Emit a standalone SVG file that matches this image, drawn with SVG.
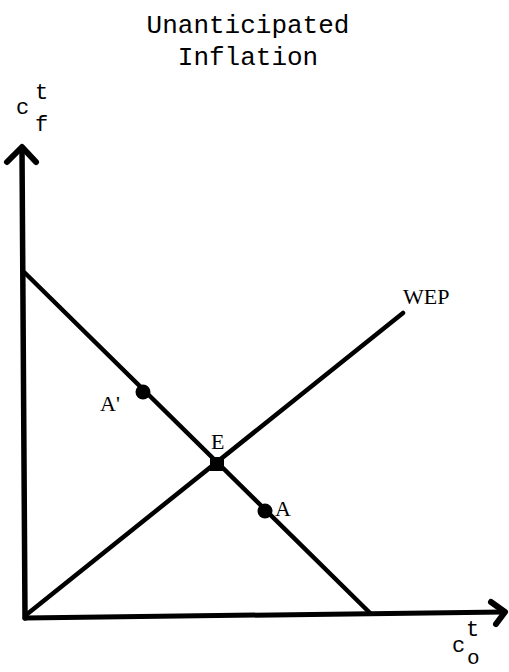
<svg xmlns="http://www.w3.org/2000/svg" width="509" height="672" viewBox="0 0 509 672">
<style>
.mono{font-family:"Liberation Mono","DejaVu Sans Mono",monospace;fill:#000}
.serif{font-family:"Liberation Serif","DejaVu Serif",serif;fill:#000}
.ln{stroke:#000;fill:none;stroke-linecap:round;stroke-linejoin:round}
</style>
<rect width="509" height="672" fill="#fff"/>
<g id="title">
<text class="mono" x="248" y="33" font-size="26" text-anchor="middle">Unanticipated</text>
<text class="mono" x="248" y="65" font-size="26" text-anchor="middle">Inflation</text>
</g>
<g id="axis-labels">
<text class="mono" x="16" y="114" font-size="22">c</text>
<text class="mono" x="35" y="99" font-size="22">t</text>
<text class="mono" x="35" y="131" font-size="22">f</text>
<text class="mono" x="466" y="636" font-size="22">t</text>
<text class="mono" x="452" y="652" font-size="22">c</text>
<text class="mono" x="467" y="664" font-size="21">o</text>
</g>
<g id="connectors">
<line class="ln" x1="22" y1="150" x2="25" y2="618" stroke-width="5.5"/>
<polyline class="ln" points="7,162 22,147 36,162" stroke-width="6"/>
<line class="ln" x1="25" y1="618" x2="504" y2="612" stroke-width="5"/>
<polyline class="ln" points="491,602 505,612 496,624" stroke-width="6"/>
<line class="ln" x1="25" y1="273" x2="370" y2="613" stroke-width="4.5"/>
<line class="ln" x1="26" y1="615" x2="403" y2="313" stroke-width="4.5"/>
</g>
<g id="E">
<rect x="210" y="457" width="14" height="14" fill="#000"/>
<text class="serif" x="211" y="449" font-size="22">E</text>
</g>
<g id="A-prime">
<circle cx="143" cy="392" r="7.5" fill="#000"/>
<text class="serif" x="100" y="411" font-size="22">A'</text>
</g>
<g id="A">
<circle cx="265" cy="511" r="7.5" fill="#000"/>
<text class="serif" x="275" y="516" font-size="22">A</text>
</g>
<g id="WEP">
<text class="serif" x="403" y="304" font-size="22">WEP</text>
</g>
</svg>
